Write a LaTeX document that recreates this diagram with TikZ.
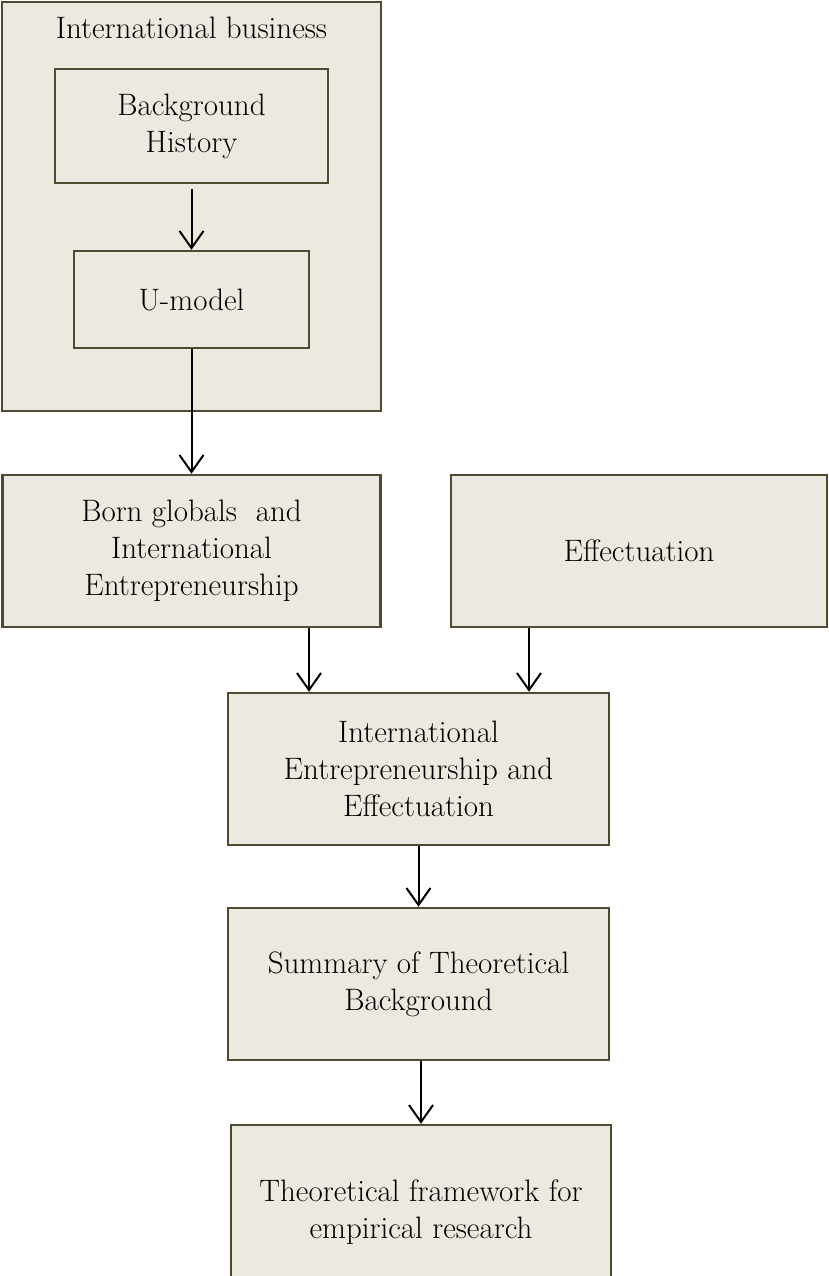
\documentclass[tikz,border=0pt]{standalone}
\usepackage{fontspec}
\usetikzlibrary{arrows.meta}
\definecolor{boxfill}{RGB}{236,233,224}
\definecolor{boxline}{RGB}{79,74,50}

\begin{document}
\begin{tikzpicture}[x=1pt, y=-1pt, font=\fontsize{31}{37}\selectfont,
	box/.style = {draw=boxline, fill=boxfill, line width=2.5pt, align=center, inner sep=0pt},
	arr/.style = {line width=2pt, -{Straight Barb[length=17pt, width=24pt, line width=2pt]}}]
	\useasboundingbox (0,0) rectangle (829,1276);

	% international business block
	\node[box, minimum width=379pt, minimum height=409pt] (ib) at (191.5,206.5) {};
	\node[anchor=base] (ibtitle) at (191.5,39) {International business};
	\node[box, minimum width=273pt, minimum height=114pt] (bh) at (191.5,126) {Background\\History};
	\node[box, minimum width=235pt, minimum height=97pt] (um) at (191.5,299.5) {U-model};

	\node[box, minimum width=378pt, minimum height=152pt] (bg) at (191.5,551) {Born globals~ and\\International\\Entrepreneurship};
	\node[box, minimum width=376pt, minimum height=152pt] (eff) at (639,551) {Effectuation};
	\node[box, minimum width=381pt, minimum height=152pt] (iee) at (418.5,769) {International\\Entrepreneurship and\\Effectuation};
	\node[box, minimum width=381pt, minimum height=152pt] (sum) at (418.5,984) {Summary of Theoretical\\Background};
	\node[box, minimum width=380pt, minimum height=175pt] (tf) at (421,1212.5) {Theoretical framework for\\empirical research};

	\coordinate (c1) at (309,0);
	\coordinate (c2) at (529,0);

	\draw[arr, shorten <=5pt] (bh) -- (um);
	\draw[arr] (um) -- (bg);
	\draw[arr] (bg.south -| c1) -- (iee.north -| c1);
	\draw[arr] (eff.south -| c2) -- (iee.north -| c2);
	\draw[arr] (iee) -- (sum);
	\draw[arr] (sum.south -| tf.north) -- (tf.north);
\end{tikzpicture}
\end{document}
